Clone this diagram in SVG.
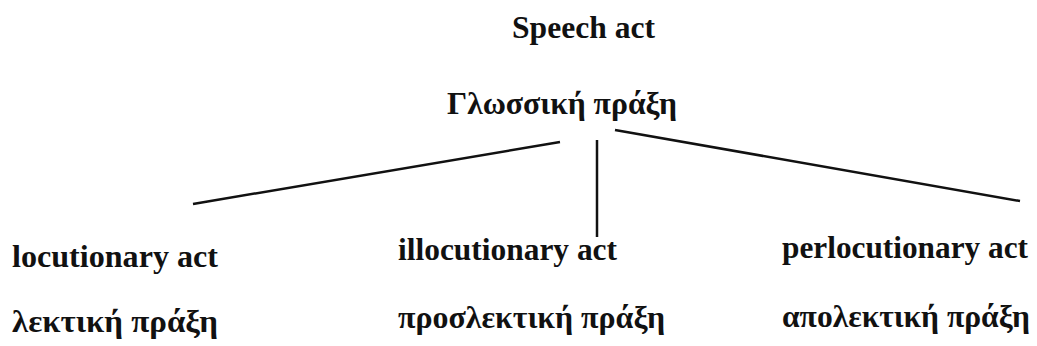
<svg xmlns="http://www.w3.org/2000/svg" width="1037" height="346" viewBox="0 0 1037 346">
<style>
.t{font-family:"Liberation Serif","Times New Roman",serif;font-weight:bold;font-size:31px;fill:#111}
.c{stroke:#111;stroke-width:2.5;fill:none}
</style>
<rect width="1037" height="346" fill="#fff"/>
<g id="connectors">
<line class="c" x1="560" y1="142" x2="193" y2="204"/>
<line class="c" x1="597" y1="140" x2="597" y2="237"/>
<line class="c" x1="615" y1="130" x2="1020" y2="201"/>
</g>
<g id="root">
<text class="t" x="512" y="38" textLength="143" lengthAdjust="spacingAndGlyphs">Speech act</text>
<text class="t" x="447" y="114" textLength="230" lengthAdjust="spacingAndGlyphs">Γλωσσική πράξη</text>
</g>
<g id="locutionary">
<text class="t" x="12" y="267" textLength="206" lengthAdjust="spacingAndGlyphs">locutionary act</text>
<text class="t" x="12" y="332" textLength="206" lengthAdjust="spacingAndGlyphs">λεκτική πράξη</text>
</g>
<g id="illocutionary">
<text class="t" x="398" y="260" textLength="219" lengthAdjust="spacingAndGlyphs">illocutionary act</text>
<text class="t" x="398" y="328" textLength="267" lengthAdjust="spacingAndGlyphs">προσλεκτική πράξη</text>
</g>
<g id="perlocutionary">
<text class="t" x="782" y="258" textLength="246" lengthAdjust="spacingAndGlyphs">perlocutionary act</text>
<text class="t" x="782" y="327" textLength="248" lengthAdjust="spacingAndGlyphs">απολεκτική πράξη</text>
</g>
</svg>
